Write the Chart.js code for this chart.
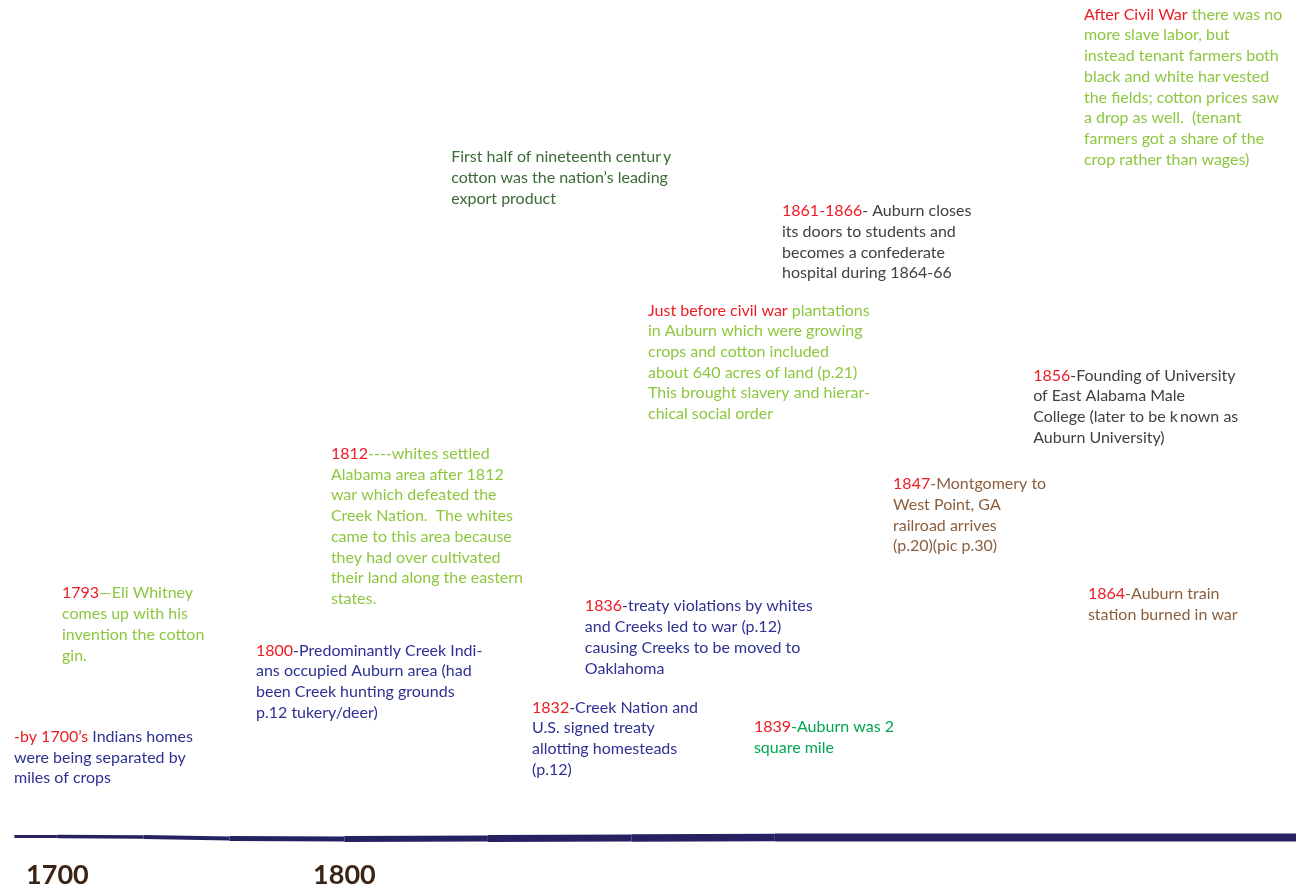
<!DOCTYPE html>
<html>
<head>
<meta charset="utf-8">
<script src="https://cdn.jsdelivr.net/npm/chart.js@4.4.1/dist/chart.umd.min.js"></script>
<style>
  html, body { margin: 0; padding: 0; background: #fff; }
  #wrap { width: 1296px; height: 890px; position: relative; }
</style>
</head>
<body>
<div id="wrap"><canvas id="timeline"></canvas></div>
<script>
// timeline axis
const tickYears = [1700, 1800];
const timelineX = [1685, 1700, 1730, 1760, 1800, 1850, 1900, 1950, 2000, 2131.6];
const timelineY = [24, 24, 23.5, 22, 21.5, 22, 22.5, 23, 23, 23];

// notes: anchor on the strip (timeline units / height above the bottom)
const noteX = [2057.7, 1837.2, 1952.5, 1905.8, 2040.0, 1795.3, 1991.2, 1701.6, 2059.1, 1883.8, 1769.2, 1865.4, 1942.7, 1684.9];
const noteY = [843, 701, 647, 548, 483, 405, 375, 266, 265, 253, 209, 152, 133, 123];
const noteHeads = [
  'After Civil War', '', '1861-1866', 'Just before civil war', '1856', '1812', '1847',
  '1793', '1864', '1836', '1800', '1832', '1839', '-by 1700\u2019s'
];
const noteLines = [
  [' there was no', 'more slave labor, but', 'instead tenant farmers both', 'black and white har\u2009vested',
   'the fields; cotton prices saw', 'a drop as well.  (tenant', 'farmers got a share of the', 'crop rather than wages)'],
  ['First half of nineteenth centur\u2009y', 'cotton was the nation\u2019s leading', 'export product'],
  ['- Auburn closes', 'its doors to students and', 'becomes a confederate', 'hospital during 1864-66'],
  [' plantations', 'in Auburn which were growing', 'crops and cotton included', 'about 640 acres of land (p.21)',
   'This brought slavery and hierar-', 'chical social order'],
  ['-Founding of University', 'of East Alabama Male', 'College (later to be k\u2009nown as', 'Auburn University)'],
  ['----whites settled', 'Alabama area after 1812', 'war which defeated the', 'Creek Nation.  The whites',
   'came to this area because', 'they had over cultivated', 'their land along the eastern', 'states.'],
  ['-Montgomery to', 'West Point, GA', 'railroad arrives', '(p.20)(pic p.30)'],
  ['\u2014Eli Whitney', 'comes up with his', 'invention the cotton', 'gin.'],
  ['-Auburn train', 'station burned in war'],
  ['-treaty violations by whites', 'and Creeks led to war (p.12)', 'causing Creeks to be moved to', 'Oaklahoma'],
  ['-Predominantly Creek Indi-', 'ans occupied Auburn area (had', 'been Creek hunting grounds', 'p.12 tukery/deer)'],
  ['-Creek Nation and', 'U.S. signed treaty', 'allotting homesteads', '(p.12)'],
  ['-Auburn was 2', 'square mile'],
  [' Indians homes', 'were being separated by', 'miles of crops']
];
const noteColors = [
  '#8dc63f', '#3b6b36', '#414042', '#8dc63f', '#414042', '#8dc63f', '#8b5e3c',
  '#8dc63f', '#8b5e3c', '#2e3192', '#2e3192', '#2e3192', '#00a651', '#2e3192'
];

const HEAD_COLOR = '#ed1c24';
const BODY_FONT = '16px Lato';
const LINE_H = 20.7;

const notePlugin = {
  id: 'notes',
  afterDatasetsDraw(chart) {
    const ctx = chart.ctx;
    const meta = chart.getDatasetMeta(1);
    ctx.save();
    ctx.font = BODY_FONT;
    ctx.textBaseline = 'middle';
    ctx.textAlign = 'left';
    noteLines.forEach((lines, i) => {
      const pt = meta.data[i];
      lines.forEach((line, j) => {
        const yy = pt.y - 0.5 + j * LINE_H;
        let xx = pt.x;
        if (j === 0 && noteHeads[i]) {
          ctx.fillStyle = HEAD_COLOR;
          ctx.fillText(noteHeads[i], xx, yy);
          xx += ctx.measureText(noteHeads[i]).width;
        }
        ctx.fillStyle = noteColors[i];
        ctx.fillText(line, xx, yy);
      });
    });
    ctx.restore();
  }
};

const lineWidths = [3, 3.5, 4, 5, 6, 7, 7.5, 8, 8];

new Chart(document.getElementById('timeline'), {
  type: 'scatter',
  data: {
    datasets: [
      {
        type: 'line',
        data: timelineX.map((v, i) => ({ x: v, y: timelineY[i] })),
        borderColor: '#262262',
        borderWidth: 8,
        borderCapStyle: 'butt',
        pointRadius: 0,
        tension: 0,
        segment: { borderWidth: c => lineWidths[c.p0DataIndex] }
      },
      {
        data: noteX.map((v, i) => ({ x: v, y: noteY[i] })),
        pointRadius: 0,
        pointHoverRadius: 0
      }
    ]
  },
  options: {
    responsive: true,
    maintainAspectRatio: false,
    animation: false,
    events: [],
    layout: { padding: 0 },
    plugins: { legend: { display: false }, tooltip: { enabled: false } },
    scales: {
      x: {
        type: 'linear',
        min: 1680,
        max: 2131.6,
        grid: { display: false, drawTicks: false },
        border: { display: false },
        afterBuildTicks: s => { s.ticks = tickYears.map(v => ({ value: v })); },
        ticks: {
          autoSkip: false,
          maxRotation: 0,
          padding: -1.5,
          color: '#3c2415',
          font: { family: 'Lato', size: 27, weight: 'bold' },
          callback: v => String(v)
        }
      },
      y: {
        display: false,
        min: 0,
        max: 858
      }
    }
  },
  plugins: [notePlugin]
});
</script>
</body>
</html>
